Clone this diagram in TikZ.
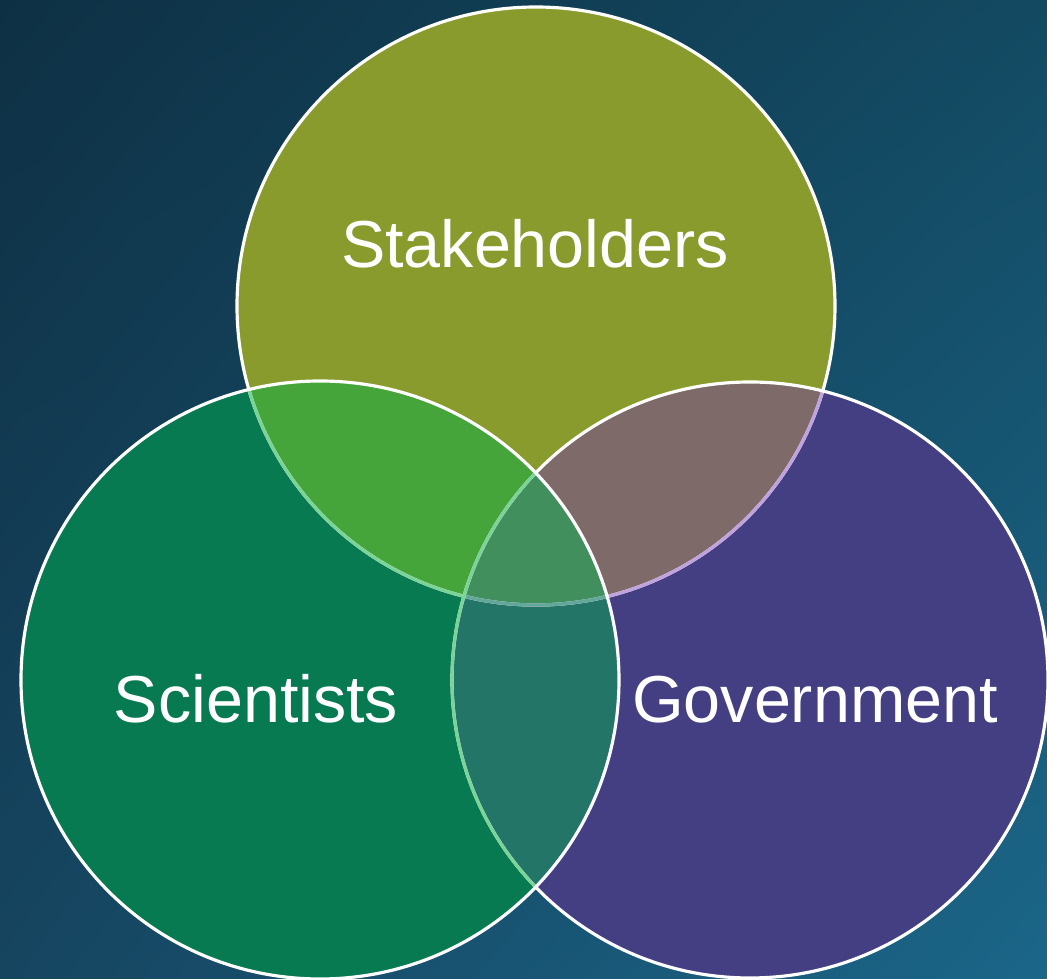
\documentclass[tikz,border=0pt]{standalone}
\usepackage{fontspec}
\setmainfont{Liberation Sans}
\usepackage{tikz}
\usetikzlibrary{shadings}

\definecolor{bgul}{HTML}{0E3044}
\definecolor{bgur}{HTML}{134A62}
\definecolor{bgll}{HTML}{164560}
\definecolor{bglr}{HTML}{1B6689}
\definecolor{stakefill}{HTML}{8A9B2E}
\definecolor{scifill}{HTML}{087A52}
\definecolor{govfill}{HTML}{443F83}
\definecolor{stakesci}{HTML}{46A53A}
\definecolor{stakegov}{HTML}{7E6A68}
\definecolor{scigov}{HTML}{237568}
\definecolor{allthree}{HTML}{428F5E}
\definecolor{lineinsci}{HTML}{7AD497}
\definecolor{lineingov}{HTML}{C0A2DE}
\definecolor{lineinboth}{HTML}{62A898}

\begin{document}
\begin{tikzpicture}[x=0.01cm, y=0.01cm]
				\tikzstyle{every node}+=[inner sep=0pt, text=white, font=\fontsize{18.9}{22}\selectfont]
				\tikzstyle{rim}=[line width=0.9pt]
				\clip (0,0) rectangle (1047,-979);
				\shade [upper left=bgul, upper right=bgur, lower left=bgll, lower right=bglr] (0,0) rectangle (1047,-979);
				% the three sets
				\fill [stakefill] (536,-306) circle (299);
				\fill [scifill] (320,-680) circle (299);
				\fill [govfill] (750,-680) circle (298);
				% overlaps
				\begin{scope}
				\clip (536,-306) circle (299);
				\fill [stakesci] (320,-680) circle (299);
				\fill [stakegov] (750,-680) circle (298);
				\end{scope}
				\begin{scope}
				\clip (320,-680) circle (299);
				\fill [scigov] (750,-680) circle (298);
				\clip (536,-306) circle (299);
				\fill [allthree] (750,-680) circle (298);
				\end{scope}
				% outlines
				\draw [white, rim] (536,-306) circle (299);
				\begin{scope}
				\clip (320,-680) circle (299);
				\draw [lineinsci, rim] (536,-306) circle (299);
				\end{scope}
				\begin{scope}
				\clip (750,-680) circle (298);
				\draw [lineingov, rim] (536,-306) circle (299);
				\clip (320,-680) circle (299);
				\draw [lineinboth, rim] (536,-306) circle (299);
				\end{scope}
				\draw [white, rim] (750,-680) circle (298);
				\begin{scope}
				\clip (320,-680) circle (299);
				\draw [lineinsci, rim] (750,-680) circle (298);
				\end{scope}
				\draw [white, rim] (320,-680) circle (299);
				% labels
				\node [anchor=base] (stakeholders) at (535,-268) {Stakeholders};
				\node [anchor=base] (scientists) at (256,-723) {Scientists};
				\node [anchor=base] (government) at (815,-723) {Government};
\end{tikzpicture}
\end{document}
